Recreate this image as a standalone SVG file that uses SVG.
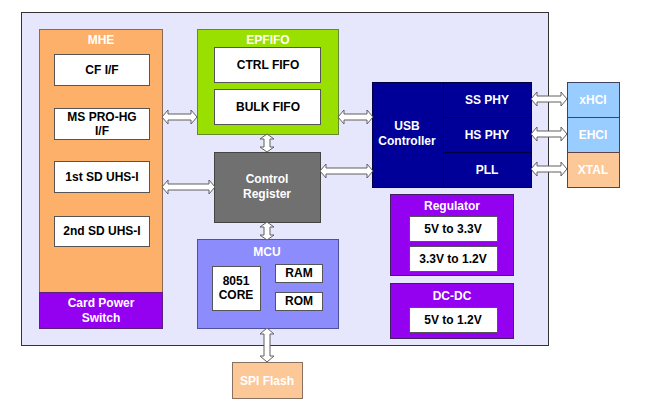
<svg xmlns="http://www.w3.org/2000/svg" width="662" height="412" viewBox="0 0 662 412">
<style>
text{font-family:"Liberation Sans",Arial,sans-serif;font-weight:bold;font-size:12px;text-anchor:middle}
.w{fill:#ffffff}
.k{fill:#000000}
.box{fill:#ffffff;stroke:#555555;stroke-width:1}
.arr{fill:#ffffff;stroke:#606060;stroke-width:1}
</style>
<rect x="21.500" y="12.500" width="527" height="333" fill="#e6e6fc" stroke="#333333" stroke-width="1"/>
<g id="mhe">
<rect x="39.500" y="29.500" width="123" height="299" fill="#fdb06a" stroke="#8a6a50"/>
<text x="101" y="44" class="w">MHE</text>
<rect x="54.500" y="54.500" width="95" height="31" class="box"/>
<text x="102" y="74" class="k">CF I/F</text>
<rect x="54.500" y="108.500" width="95" height="31" class="box"/>
<text x="102" y="121" class="k">MS PRO-HG</text>
<text x="102" y="135" class="k">I/F</text>
<rect x="54.500" y="161.500" width="95" height="31" class="box"/>
<text x="102" y="181" class="k">1st SD UHS-I</text>
<rect x="54.500" y="216.500" width="95" height="30" class="box"/>
<text x="102" y="235" class="k">2nd SD UHS-I</text>
</g>
<g id="cps">
<rect x="39.500" y="292.500" width="123" height="36" fill="#9400f0" stroke="#5a2080"/>
<text x="101" y="307" class="w">Card Power</text>
<text x="101" y="322" class="w">Switch</text>
</g>
<g id="epfifo">
<rect x="197.500" y="29.500" width="141" height="105" fill="#99e000" stroke="#668833"/>
<text x="268" y="44" class="w">EPFIFO</text>
<rect x="214.500" y="47.500" width="106" height="35" class="box"/>
<text x="268" y="69" class="k">CTRL FIFO</text>
<rect x="214.500" y="89.500" width="106" height="35" class="box"/>
<text x="268" y="111" class="k">BULK FIFO</text>
</g>
<g id="ctrlreg">
<rect x="214.500" y="152.500" width="106" height="70" fill="#707070" stroke="#444444"/>
<text x="267" y="183" class="w">Control</text>
<text x="267" y="198" class="w">Register</text>
</g>
<g id="mcu">
<rect x="197.500" y="239.500" width="141" height="89" fill="#8c8cfc" stroke="#5050a0"/>
<text x="267" y="256" class="w">MCU</text>
<rect x="212.500" y="266.500" width="48" height="44" class="box"/>
<text x="236" y="285" class="k">8051</text>
<text x="236" y="299" class="k">CORE</text>
<rect x="275.500" y="264.500" width="47" height="18" class="box"/>
<text x="299" y="277" class="k">RAM</text>
<rect x="275.500" y="292.500" width="47" height="18" class="box"/>
<text x="299" y="305" class="k">ROM</text>
</g>
<g id="spi">
<rect x="232.500" y="362.500" width="70" height="36" fill="#fcc898" stroke="#8a7060"/>
<text x="267" y="385" class="w">SPI Flash</text>
</g>
<g id="usb">
<rect x="372.500" y="82.500" width="159" height="105" fill="#000099" stroke="#000040"/>
<line x1="443.500" y1="82" x2="443.500" y2="188" stroke="#000040"/>
<line x1="443" y1="117.500" x2="532" y2="117.500" stroke="#000040"/>
<line x1="443" y1="152.500" x2="532" y2="152.500" stroke="#000040"/>
<text x="407" y="130" class="w">USB</text>
<text x="407" y="145" class="w">Controller</text>
<text x="487" y="104" class="w">SS PHY</text>
<text x="487" y="139" class="w">HS PHY</text>
<text x="487" y="174" class="w">PLL</text>
</g>
<g id="xhci">
<rect x="567.500" y="82.500" width="52" height="35" fill="#99ccff" stroke="#404060"/>
<text x="593" y="104" class="w">xHCI</text>
</g>
<g id="ehci">
<rect x="567.500" y="117.500" width="52" height="35" fill="#99ccff" stroke="#404060"/>
<text x="593" y="139" class="w">EHCI</text>
</g>
<g id="xtal">
<rect x="567.500" y="152.500" width="52" height="35" fill="#fcc898" stroke="#604040"/>
<text x="593" y="174" class="w">XTAL</text>
</g>
<g id="regulator">
<rect x="390.500" y="194.500" width="123" height="81" fill="#9400f0" stroke="#402060"/>
<text x="452" y="210" class="w">Regulator</text>
<rect x="409.500" y="216.500" width="88" height="25" class="box"/>
<text x="453" y="233" class="k">5V to 3.3V</text>
<rect x="409.500" y="246.500" width="88" height="25" class="box"/>
<text x="453" y="263" class="k">3.3V to 1.2V</text>
</g>
<g id="dcdc">
<rect x="390.500" y="283.500" width="123" height="55" fill="#9400f0" stroke="#402060"/>
<text x="452" y="300" class="w">DC-DC</text>
<rect x="409.500" y="307.500" width="88" height="25" class="box"/>
<text x="453" y="324" class="k">5V to 1.2V</text>
</g>
<g id="connectors">
<line x1="548.500" y1="12" x2="548.500" y2="190" stroke="#333333"/>
<path class="arr" d="M162,117 l6,-7 v4 h23 v-4 l6,7 l-6,7 v-4 h-23 v4 z"/>
<path class="arr" d="M162,187 l6,-7 v4 h41 v-4 l6,7 l-6,7 v-4 h-41 v4 z"/>
<path class="arr" d="M338,117 l6,-7 v4 h23 v-4 l6,7 l-6,7 v-4 h-23 v4 z"/>
<path class="arr" d="M320,171 l6,-7 v4 h41 v-4 l6,7 l-6,7 v-4 h-41 v4 z"/>
<path class="arr" d="M531,99 l6,-7 v4 h24 v-4 l6,7 l-6,7 v-4 h-24 v4 z"/>
<path class="arr" d="M531,134 l6,-7 v4 h24 v-4 l6,7 l-6,7 v-4 h-24 v4 z"/>
<path class="arr" d="M531,169 l6,-7 v4 h24 v-4 l6,7 l-6,7 v-4 h-24 v4 z"/>
<path class="arr" d="M267,134 l7,5 h-4 v8 h4 l-7,5 l-7,-5 h4 v-8 h-4 z"/>
<path class="arr" d="M267,222 l7,5 h-4 v8 h4 l-7,5 l-7,-5 h4 v-8 h-4 z"/>
<path class="arr" d="M267,328 l7,6 h-4 v22 h4 l-7,6 l-7,-6 h4 v-22 h-4 z"/>
</g>
</svg>
